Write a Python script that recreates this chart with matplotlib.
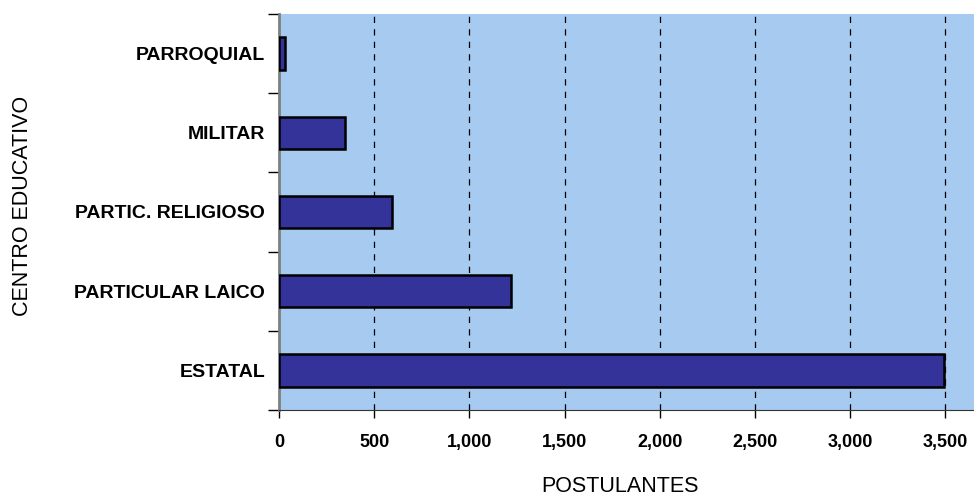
import matplotlib.pyplot as plt
import matplotlib as mpl
from matplotlib.ticker import FuncFormatter, FixedLocator
import numpy as np

# Datos
categorias = ['ESTATAL', 'PARTICULAR LAICO', 'PARTIC. RELIGIOSO', 'MILITAR', 'PARROQUIAL']
postulantes = [3490, 1218, 593, 346, 32]
ticks_x = [0, 500, 1000, 1500, 2000, 2500, 3000, 3500]

mpl.rc('font', family='Liberation Sans')

fig = plt.figure(figsize=(9.74, 4.97), dpi=100)
ax = fig.add_axes([279/974, 1 - 410/497, 695/974, 396/497])
ax.set_facecolor('#A6CAF0')

y = np.arange(len(categorias))
ax.barh(y, postulantes, height=0.41, color='#333399', edgecolor='black',
        linewidth=1.8, zorder=3)

ax.set_xlim(0, 3650)
ax.set_ylim(-0.5, len(categorias) - 0.5)

# Eje X
ax.set_xticks(ticks_x)
ax.xaxis.set_major_formatter(FuncFormatter(lambda v, p: f'{int(v):,}'))
ax.tick_params(axis='x', length=6, width=1, pad=11, labelsize=13)
for lab in ax.get_xticklabels():
    lab.set_fontweight('bold')
for xv in ticks_x[1:]:
    ax.axvline(xv, color='black', linestyle=(0, (5, 5)), linewidth=0.9, zorder=1)

# Eje Y
ax.set_yticks(y)
ax.set_yticklabels(categorias, fontweight='bold', fontsize=14)
ax.yaxis.set_minor_locator(FixedLocator(np.arange(-0.5, len(categorias), 1.0)))
ax.tick_params(axis='y', which='major', length=0, pad=10)
ax.tick_params(axis='y', which='minor', length=8, width=1)

ax.spines['top'].set_visible(False)
ax.spines['right'].set_visible(False)
ax.spines['left'].set_color('#7f7f7f')
ax.spines['left'].set_linewidth(2)
ax.spines['bottom'].set_color('#333333')

# Títulos de ejes (posición en píxeles respecto al área de gráfico)
ax.set_xlabel('POSTULANTES', fontsize=15.5)
ax.set_ylabel('CENTRO EDUCATIVO', fontsize=15.5)
ax.yaxis.set_label_coords(-(279 - 33)/695, 0.5 + 6/396)
ax.xaxis.set_label_coords((620 - 279)/695, -(476 - 410)/396)

fig.savefig('out.png', dpi=100)
